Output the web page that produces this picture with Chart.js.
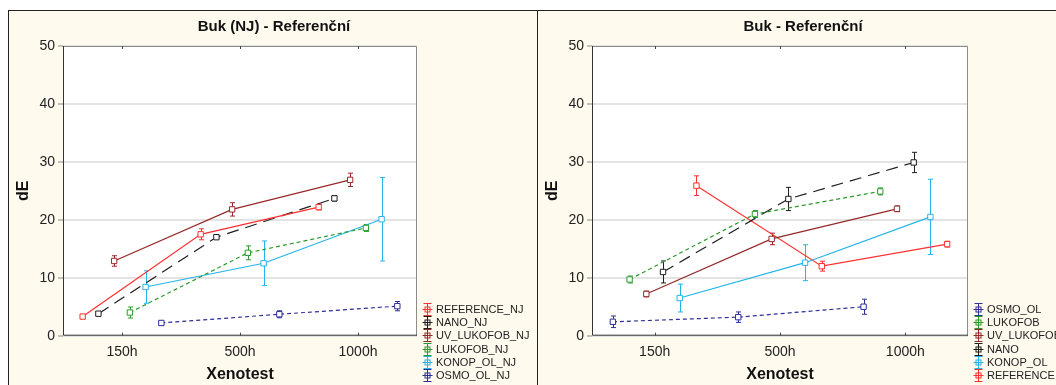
<!DOCTYPE html>
<html>
<head>
<meta charset="utf-8">
<title>Buk - Referenční</title>
<script src="https://cdn.jsdelivr.net/npm/chart.js@4.4.1/dist/chart.umd.min.js"></script>
<style>
  html, body { margin: 0; padding: 0; background: #fff; }
  #frame {
    position: absolute; left: 8px; top: 10px; width: 1048px; height: 375px;
    background: #fffaee; border-top: 1px solid #222; border-left: 1px solid #222;
    box-sizing: border-box;
  }
  #divider { position: absolute; left: 537px; top: 10px; width: 1px; height: 375px; background: #222; }
  canvas { position: absolute; top: 11px; }
  #chartNJ { left: 9px; }
  #chartRef { left: 538px; }
</style>
</head>
<body>
<div id="frame"></div>
<div id="divider"></div>
<canvas id="chartNJ" width="528" height="374"></canvas>
<canvas id="chartRef" width="518" height="374"></canvas>

<script>
const categories = ['150h', '500h', '1000h'];

// Buk (NJ) - Referenční
const namesNJ = ['REFERENCE_NJ', 'NANO_NJ', 'UV_LUKOFOB_NJ', 'LUKOFOB_NJ', 'KONOP_OL_NJ', 'OSMO_OL_NJ'];
const referenceNJ = [3.3, 17.5, 22.2];
const referenceNJErr = [0.25, 0.95, 0.5];
const nanoNJ = [3.8, 17.0, 23.7];
const nanoNJErr = [0.3, 0.3, 0.45];
const uvLukofobNJ = [12.9, 21.8, 26.9];
const uvLukofobNJErr = [0.9, 1.15, 1.15];
const lukofobNJ = [4.0, 14.3, 18.6];
const lukofobNJErr = [0.95, 1.2, 0.6];
const konopNJ = [8.4, 12.5, 20.1];
const konopNJErr = [2.8, 3.85, 7.2];
const osmoNJ = [2.2, 3.7, 5.1];
const osmoNJErr = [0.3, 0.6, 0.8];

// Buk - Referenční
const namesRef = ['OSMO_OL', 'LUKOFOB', 'UV_LUKOFOB', 'NANO', 'KONOP_OL', 'REFERENCE'];
const osmo = [2.4, 3.2, 5.0];
const osmoErr = [1.0, 0.9, 1.3];
const lukofob = [9.7, 21.0, 24.9];
const lukofobErr = [0.6, 0.6, 0.6];
const uvLukofob = [7.2, 16.7, 21.9];
const uvLukofobErr = [0.5, 1.0, 0.5];
const nano = [11.0, 23.6, 29.9];
const nanoErr = [1.9, 2.0, 1.75];
const konop = [6.5, 12.6, 20.5];
const konopErr = [2.4, 3.1, 6.5];
const reference = [25.9, 12.0, 15.8];
const referenceErr = [1.7, 0.85, 0.5];

const yMin = 0, yMax = 50, yStep = 10;

// line look per series kind
const styles = {
  REFERENCE:  { color: '#ff3030', dash: [] },
  NANO:       { color: '#1e1e1e', dash: [12, 7] },
  UV_LUKOFOB: { color: '#962a2a', dash: [] },
  LUKOFOB:    { color: '#2c9a2c', dash: [4, 3] },
  KONOP_OL:   { color: '#25b4ea', dash: [] },
  OSMO_OL:    { color: '#2e2e96', dash: [4, 3] }
};
const FONT = "'Liberation Sans', Arial, sans-serif";

function styleFor(name) {
  return styles[name.replace(/_NJ$/, '')];
}

function buildDatasets(names, values, errors) {
  const n = names.length;
  return names.map((name, i) => {
    const shift = (i - (n - 1) / 2) * 0.4 / 3;  // side by side inside each category
    const st = styleFor(name);
    return {
      label: name,
      data: values[i].map((v, j) => ({ x: j + shift, y: v })),
      errors: errors[i],
      borderColor: st.color,
      borderWidth: 1.2,
      borderDash: st.dash,
      tension: 0,
      pointStyle: 'rect',
      pointRadius: 3.8,
      pointBorderWidth: 1,
      pointBorderColor: st.color,
      pointBackgroundColor: '#fff'
    };
  });
}

const panelDecor = {
  id: 'panelDecor',
  beforeDraw(chart) {
    const a = chart.chartArea, ctx = chart.ctx;
    ctx.save();
    ctx.fillStyle = '#fff';
    ctx.fillRect(a.left, a.top, a.right - a.left, a.bottom - a.top);
    ctx.restore();
  },
  beforeDatasetsDraw(chart) {
    const a = chart.chartArea, ctx = chart.ctx;
    const xs = chart.scales.x, ys = chart.scales.y;
    ctx.save();
    // plot frame
    ctx.lineWidth = 1;
    ctx.strokeStyle = '#8c8c8c';
    ctx.beginPath();
    ctx.moveTo(a.left, a.top + 0.5); ctx.lineTo(a.right - 0.5, a.top + 0.5); ctx.lineTo(a.right - 0.5, a.bottom);
    ctx.stroke();
    ctx.strokeStyle = '#333';
    ctx.beginPath();
    ctx.moveTo(a.left + 0.5, a.top); ctx.lineTo(a.left + 0.5, a.bottom - 0.5); ctx.lineTo(a.right, a.bottom - 0.5);
    ctx.stroke();
    // category ticks, inside, top and bottom
    ctx.strokeStyle = '#444';
    categories.forEach((c, i) => {
      const px = Math.round(xs.getPixelForValue(i)) + 0.5;
      ctx.beginPath();
      ctx.moveTo(px, a.bottom); ctx.lineTo(px, a.bottom - 3);
      ctx.moveTo(px, a.top); ctx.lineTo(px, a.top + 3);
      ctx.stroke();
    });
    // error bars
    chart.data.datasets.forEach((ds, i) => {
      ctx.strokeStyle = ds.borderColor;
      ctx.lineWidth = 1;
      ds.data.forEach((p, j) => {
        const e = ds.errors[j];
        const px = Math.round(xs.getPixelForValue(p.x)) + 0.5;
        const y1 = ys.getPixelForValue(p.y + e);
        const y2 = ys.getPixelForValue(p.y - e);
        ctx.beginPath();
        ctx.moveTo(px, y1); ctx.lineTo(px, y2);
        ctx.moveTo(px - 2.5, y1); ctx.lineTo(px + 2.5, y1);
        ctx.moveTo(px - 2.5, y2); ctx.lineTo(px + 2.5, y2);
        ctx.stroke();
      });
    });
    ctx.restore();
  },
  afterDraw(chart, args, opts) {
    const a = chart.chartArea, ctx = chart.ctx;
    ctx.save();
    // title
    ctx.fillStyle = '#111';
    ctx.font = 'bold 15px ' + FONT;
    ctx.textAlign = 'center';
    ctx.textBaseline = 'middle';
    ctx.fillText(opts.title, opts.titleX, 16);
    // legend with error-bar glyphs
    ctx.font = '11px ' + FONT;
    ctx.textAlign = 'left';
    chart.data.datasets.forEach((ds, i) => {
      const y = Math.round(298 + i * 13.2) + 0.5;
      const gx = Math.round(a.right + 10) + 0.5;
      ctx.strokeStyle = ds.borderColor;
      ctx.lineWidth = 1;
      ctx.beginPath();
      ctx.moveTo(gx, y - 6); ctx.lineTo(gx, y + 6);
      ctx.moveTo(gx - 4, y - 6); ctx.lineTo(gx + 4, y - 6);
      ctx.moveTo(gx - 4, y + 6); ctx.lineTo(gx + 4, y + 6);
      ctx.moveTo(gx - 5, y); ctx.lineTo(gx + 5, y);
      ctx.stroke();
      ctx.strokeRect(gx - 2.5, y - 2.5, 5, 5);
      ctx.fillStyle = '#222';
      ctx.fillText(ds.label, a.right + 19, y + 0.5);
    });
    ctx.restore();
  }
};

function makeChart(id, names, values, errors, title, padRight) {
  return new Chart(document.getElementById(id), {
    type: 'line',
    data: { datasets: buildDatasets(names, values, errors) },
    options: {
      responsive: false,
      animation: false,
      devicePixelRatio: 1,
      layout: { padding: { top: 35, right: padRight, bottom: 0, left: 0 } },
      plugins: {
        legend: { display: false },
        tooltip: { enabled: false },
        title: { display: false },
        panelDecor: { title: title, titleX: 265 }
      },
      scales: {
        x: {
          type: 'linear',
          min: -0.5,
          max: categories.length - 0.5,
          afterBuildTicks: axis => { axis.ticks = categories.map((c, i) => ({ value: i })); },
          afterFit: axis => { axis.height = 49.3; },
          ticks: {
            callback: v => categories[v],
            font: { family: FONT, size: 14 },
            color: '#222',
            padding: 8,
            autoSkip: false,
            maxRotation: 0
          },
          grid: { display: false, drawTicks: false },
          border: { display: false },
          title: {
            display: true, text: 'Xenotest', color: '#111',
            font: { family: FONT, size: 16, weight: 'bold' },
            padding: { top: 0, bottom: 1 }
          }
        },
        y: {
          min: yMin,
          max: yMax,
          afterFit: axis => { axis.width = 54; },
          ticks: {
            stepSize: yStep,
            font: { family: FONT, size: 14 },
            color: '#222',
            padding: 3
          },
          grid: { color: '#e3e3e3', lineWidth: 2, tickLength: 5, tickColor: '#888', tickWidth: 1 },
          border: { display: false },
          title: {
            display: true, text: 'dE', color: '#111',
            font: { family: FONT, size: 16, weight: 'bold' },
            padding: { top: 5, bottom: 0 }
          }
        }
      }
    },
    plugins: [panelDecor]
  });
}

makeChart('chartNJ', namesNJ,
  [referenceNJ, nanoNJ, uvLukofobNJ, lukofobNJ, konopNJ, osmoNJ],
  [referenceNJErr, nanoNJErr, uvLukofobNJErr, lukofobNJErr, konopNJErr, osmoNJErr],
  'Buk (NJ) - Referenční', 120);

makeChart('chartRef', namesRef,
  [osmo, lukofob, uvLukofob, nano, konop, reference],
  [osmoErr, lukofobErr, uvLukofobErr, nanoErr, konopErr, referenceErr],
  'Buk - Referenční', 88);
</script>
</body>
</html>
